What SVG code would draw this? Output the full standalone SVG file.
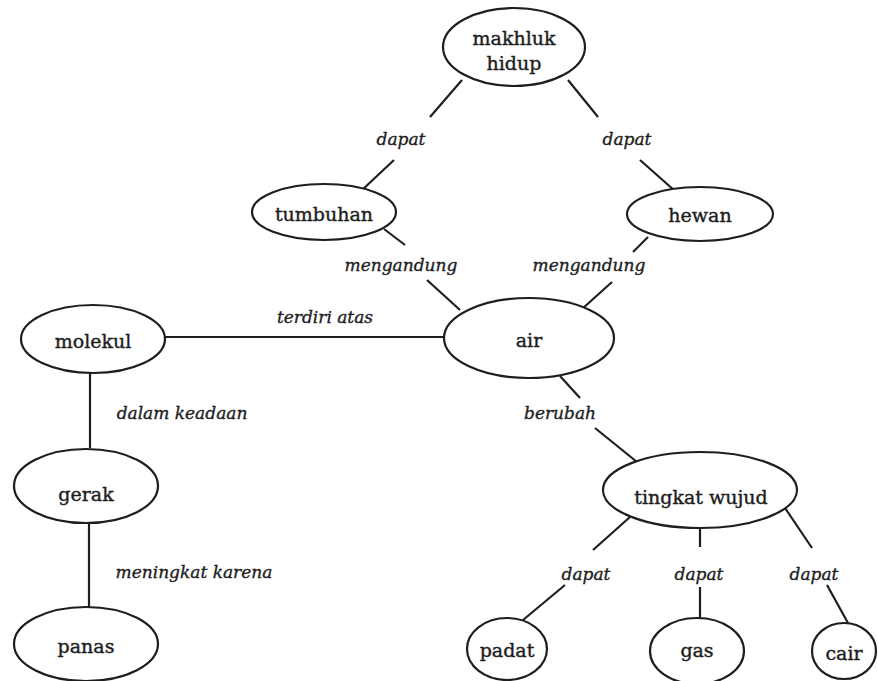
<svg xmlns="http://www.w3.org/2000/svg" width="878" height="681" viewBox="0 0 878 681">
<style>
.n ellipse{fill:#fff;stroke:#1e1e1e;stroke-width:2.2}
.n text{font-family:"DejaVu Serif","Liberation Serif",serif;font-size:19px;fill:#1e1e1e;stroke:#1e1e1e;stroke-width:0.4;text-anchor:middle}
#connectors line{stroke:#1e1e1e;stroke-width:2.2}
.lbl{font-family:"DejaVu Serif","Liberation Serif",serif;font-style:italic;font-size:17px;fill:#1e1e1e;stroke:#1e1e1e;stroke-width:0.35;text-anchor:middle}
</style>
<rect width="878" height="681" fill="#fff"/>
<g id="connectors">
<line x1="462" y1="80" x2="430" y2="117"/>
<line x1="394" y1="160" x2="361" y2="191"/>
<line x1="568" y1="80" x2="598" y2="117"/>
<line x1="640" y1="160" x2="675" y2="191"/>
<line x1="384" y1="229" x2="405" y2="245"/>
<line x1="427" y1="280" x2="460" y2="310"/>
<line x1="648" y1="237" x2="633" y2="252"/>
<line x1="612" y1="282" x2="572" y2="318"/>
<line x1="165" y1="337" x2="445" y2="337"/>
<line x1="90" y1="373" x2="90" y2="448"/>
<line x1="89" y1="523" x2="89" y2="607"/>
<line x1="560" y1="376" x2="580" y2="398"/>
<line x1="595" y1="428" x2="637" y2="462"/>
<line x1="630" y1="517" x2="593" y2="550"/>
<line x1="565" y1="585" x2="523" y2="620"/>
<line x1="700" y1="527" x2="700" y2="547"/>
<line x1="700" y1="587" x2="700" y2="618"/>
<line x1="785" y1="508" x2="812" y2="548"/>
<line x1="827" y1="585" x2="848" y2="623"/>
<text class="lbl" x="401" y="145">dapat</text>
<text class="lbl" x="627" y="145">dapat</text>
<text class="lbl" x="401" y="271">mengandung</text>
<text class="lbl" x="589" y="271">mengandung</text>
<text class="lbl" x="325" y="323">terdiri atas</text>
<text class="lbl" x="182" y="419">dalam keadaan</text>
<text class="lbl" x="194" y="578">meningkat karena</text>
<text class="lbl" x="560" y="419">berubah</text>
<text class="lbl" x="586" y="580">dapat</text>
<text class="lbl" x="699" y="580">dapat</text>
<text class="lbl" x="814" y="580">dapat</text>
</g>
<g id="makhluk-hidup" class="n"><ellipse cx="514" cy="47" rx="71" ry="39"/><text x="514" y="45">makhluk</text><text x="514" y="70">hidup</text></g>
<g id="tumbuhan" class="n"><ellipse cx="324" cy="212" rx="72" ry="28"/><text x="324" y="221">tumbuhan</text></g>
<g id="hewan" class="n"><ellipse cx="700" cy="214" rx="73" ry="27"/><text x="700" y="222">hewan</text></g>
<g id="air" class="n"><ellipse cx="529" cy="338" rx="85" ry="40"/><text x="529" y="347">air</text></g>
<g id="molekul" class="n"><ellipse cx="93" cy="339" rx="72" ry="34"/><text x="93" y="348">molekul</text></g>
<g id="gerak" class="n"><ellipse cx="86" cy="486" rx="72" ry="37"/><text x="86" y="501">gerak</text></g>
<g id="panas" class="n"><ellipse cx="86" cy="644" rx="72" ry="37"/><text x="86" y="653">panas</text></g>
<g id="tingkat-wujud" class="n"><ellipse cx="700" cy="490" rx="97" ry="38"/><text x="701" y="504">tingkat wujud</text></g>
<g id="padat" class="n"><ellipse cx="507" cy="649" rx="40" ry="31"/><text x="507" y="657">padat</text></g>
<g id="gas" class="n"><ellipse cx="697" cy="651" rx="47" ry="33"/><text x="697" y="657">gas</text></g>
<g id="cair" class="n"><ellipse cx="844" cy="651" rx="32" ry="28"/><text x="844" y="660">cair</text></g>
</svg>
